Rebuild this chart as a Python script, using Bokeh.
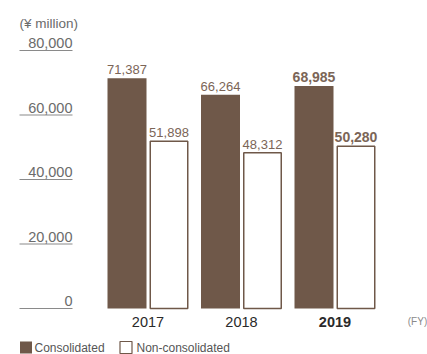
from bokeh.plotting import figure
from bokeh.models import Range1d, ColumnDataSource
from bokeh.core.properties import value
from bokeh.embed import file_html
from bokeh.resources import INLINE

# Net sales by fiscal year (¥ million)
years = ["2017", "2018", "2019"]
consolidated = [71387, 66264, 68985]
non_consolidated = [51898, 48312, 50280]
y_ticks = [0, 20000, 40000, 60000, 80000]
tick_labels = ["0", "20,000", "40,000", "60,000", "80,000"]

BROWN = "#6f5849"
LABEL_BROWN = "#7b6557"
GRAY = "#6b6b6b"
FONT = value("Liberation Sans")

W, H = 427, 354
# plot geometry: group spacing and value scale
X0_PX, UNIT_PX = 147.5, 93.5
Y0_PX, VAL_PER_PX = 308.0, 80000 / 258.0


def px_x(px):
    return (px - X0_PX) / UNIT_PX


def px_y(py):
    return (Y0_PX - py) * VAL_PER_PX


p = figure(width=W, height=H, output_backend="svg", toolbar_location=None,
           x_range=Range1d(px_x(0), px_x(W)), y_range=Range1d(px_y(H), px_y(0)),
           min_border=0, outline_line_color=None)
p.axis.visible = False
p.grid.visible = False
p.background_fill_color = "white"

idx = list(range(len(years)))
bw = 39 / UNIT_PX
off = 21 / UNIT_PX
src = ColumnDataSource(dict(
    xc=[i - off for i in idx], xn=[i + off for i in idx],
    c=consolidated, n=non_consolidated,
))

p.vbar(x="xc", top="c", bottom=0, width=bw, source=src,
       fill_color=BROWN, line_color=None)
p.vbar(x="xn", top="n", bottom=0, width=bw - 1.5 / UNIT_PX, source=src,
       fill_color="white", line_color=BROWN, line_width=1.5)

# value labels; latest year emphasised
pad = 4 * VAL_PER_PX
for i in idx:
    bold = i == len(years) - 1
    for x, v in ((i - off, consolidated[i]), (i + off, non_consolidated[i])):
        p.text(x=[x], y=[v + pad], text=[f"{v:,}"], text_align="center",
               text_baseline="bottom", text_font=FONT,
               text_font_size="14px" if bold else "13px",
               text_font_style="bold" if bold else "normal",
               text_color=LABEL_BROWN)

# y-axis ticks: label sitting on a short rule
p.segment(x0=[px_x(19)] * len(y_ticks), x1=[px_x(72)] * len(y_ticks),
          y0=y_ticks, y1=y_ticks, line_color="#8a8a8a", line_width=1.2)
p.text(x=[px_x(72)] * len(y_ticks), y=[t + 2.5 * VAL_PER_PX for t in y_ticks],
       text=tick_labels, text_align="right", text_baseline="bottom",
       text_font=FONT, text_font_size="14.5px", text_color=GRAY)
p.text(x=[px_x(19)], y=[px_y(23)], text=["(¥ million)"], text_align="left",
       text_baseline="middle", text_font=FONT, text_font_size="13.5px",
       text_color=GRAY)

# category labels
for i, yr in enumerate(years):
    bold = i == len(years) - 1
    p.text(x=[i], y=[px_y(321)], text=[yr], text_align="center",
           text_baseline="middle", text_font=FONT, text_font_size="14.5px",
           text_font_style="bold" if bold else "normal", text_color="#2a2a2a")
p.text(x=[px_x(417)], y=[px_y(321)], text=["(FY)"], text_align="center",
       text_baseline="middle", text_font=FONT, text_font_size="10px",
       text_color="#8a8a8a")

# legend
p.rect(x=[px_x(25.5)], y=[px_y(347)], width=12, height=12,
       width_units="screen", height_units="screen",
       fill_color=BROWN, line_color=None)
p.rect(x=[px_x(125.5)], y=[px_y(347)], width=12, height=12,
       width_units="screen", height_units="screen",
       fill_color="white", line_color=BROWN, line_width=1.2)
p.text(x=[px_x(34), px_x(136)], y=[px_y(347)] * 2,
       text=["Consolidated", "Non-consolidated"], text_align="left",
       text_baseline="middle", text_font=FONT, text_font_size="12px",
       text_color="#555555")

open("out.html", "w").write(file_html(p, INLINE))
